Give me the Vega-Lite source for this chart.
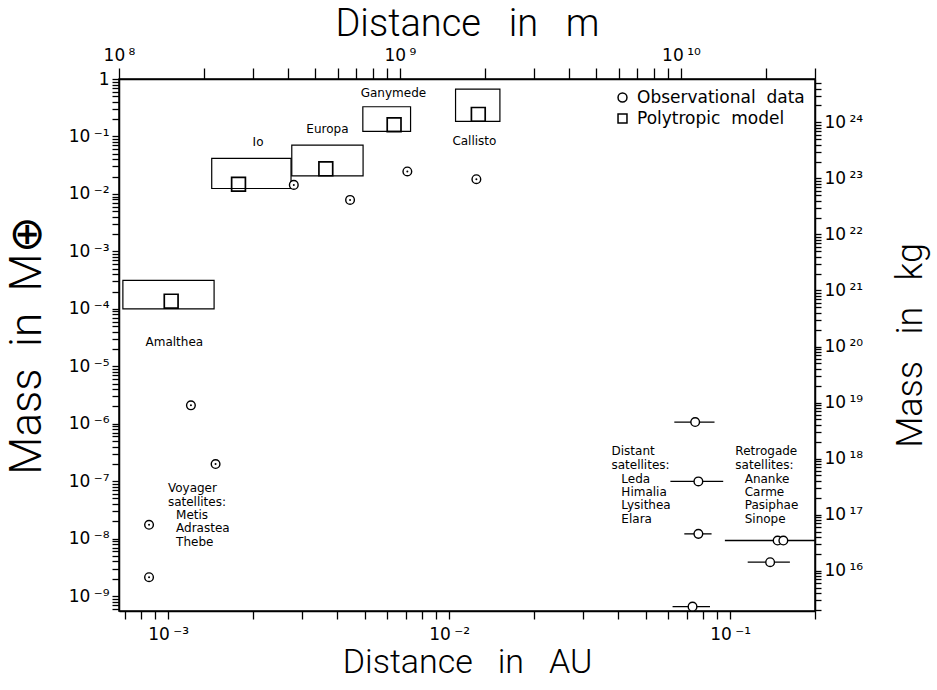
{
  "$schema": "https://vega.github.io/schema/vega-lite/v6.json",
  "width": 696,
  "height": 532,
  "padding": {"left": 5, "right": 5, "top": 5, "bottom": 0},
  "background": "white",
  "config": {
    "view": {"stroke": "black", "strokeWidth": 1.5},
    "font": "DejaVu Sans",
    "axis": {
      "ticks": true, "tickOpacity": 1,
      "domainColor": "black", "domainWidth": 1.5,
      "tickColor": "black", "tickWidth": 1.3,
      "labelColor": "black", "titleColor": "black",
      "labelFont": "DejaVu Sans", "labelFontSize": 17,
      "titleFont": "Roboto", "titleFontWeight": 300,
      "grid": false, "labelOverlap": false, "labelFlush": false, "labelBound": false
    },
    "legend": {
      "title": null, "orient": "top-right", "offset": 10, "padding": 0,
      "labelFont": "DejaVu Sans", "labelFontSize": 17, "labelColor": "black", "labelLimit": 400,
      "symbolSize": 80, "symbolStrokeColor": "black", "symbolStrokeWidth": 1.5,
      "symbolFillColor": "white", "rowPadding": 3, "labelOffset": 6
    }
  },
  "datasets": {
    "obs": [
      {"name": "Io", "a": 0.00280, "mass": 0.01435, "kind": "Observational\u00a0 data", "dot": true},
      {"name": "Europa", "a": 0.00444, "mass": 0.00786, "kind": "Observational\u00a0 data", "dot": true},
      {"name": "Ganymede", "a": 0.00710, "mass": 0.0246, "kind": "Observational\u00a0 data", "dot": true},
      {"name": "Callisto", "a": 0.0125, "mass": 0.0180, "kind": "Observational\u00a0 data", "dot": true},
      {"name": "Amalthea", "a": 0.001205, "mass": 2.09e-6, "kind": "Observational\u00a0 data", "dot": true},
      {"name": "Thebe", "a": 0.001475, "mass": 1.99e-7, "kind": "Observational\u00a0 data", "dot": true},
      {"name": "Adrastea", "a": 0.000855, "mass": 1.74e-8, "kind": "Observational\u00a0 data", "dot": true},
      {"name": "Metis", "a": 0.000855, "mass": 2.13e-9, "kind": "Observational\u00a0 data", "dot": true},
      {"name": "Himalia", "a": 0.0751, "mass": 1.07e-6, "kind": "Observational\u00a0 data", "dot": false},
      {"name": "Elara", "a": 0.0771, "mass": 9.9e-8, "kind": "Observational\u00a0 data", "dot": false},
      {"name": "Lysithea", "a": 0.0771, "mass": 1.21e-8, "kind": "Observational\u00a0 data", "dot": false},
      {"name": "Leda", "a": 0.0735, "mass": 6.55e-10, "kind": "Observational\u00a0 data", "dot": false},
      {"name": "Pasiphae", "a": 0.1476, "mass": 9.27e-9, "kind": "Observational\u00a0 data", "dot": false},
      {"name": "Sinope", "a": 0.1547, "mass": 9.27e-9, "kind": "Observational\u00a0 data", "dot": false},
      {"name": "Carme", "a": 0.1388, "mass": 3.89e-9, "kind": "Observational\u00a0 data", "dot": false}
    ],
    "bars": [
      {"name": "Himalia", "lo": 0.0633, "hi": 0.0880, "mass": 1.07e-6},
      {"name": "Elara", "lo": 0.0613, "hi": 0.0945, "mass": 9.9e-8},
      {"name": "Lysithea", "lo": 0.0687, "hi": 0.0859, "mass": 1.21e-8},
      {"name": "Leda", "lo": 0.0624, "hi": 0.0848, "mass": 6.55e-10},
      {"name": "Pasiphae", "lo": 0.0958, "hi": 0.2005, "mass": 9.27e-9},
      {"name": "Carme", "lo": 0.1155, "hi": 0.1632, "mass": 3.89e-9}
    ],
    "model": [
      {"name": "Amalthea", "a": 0.001025, "mass": 1.36e-4, "kind": "Polytropic\u00a0 model"},
      {"name": "Io", "a": 0.00178, "mass": 0.01476, "kind": "Polytropic\u00a0 model"},
      {"name": "Europa", "a": 0.00364, "mass": 0.0273, "kind": "Polytropic\u00a0 model"},
      {"name": "Ganymede", "a": 0.00637, "mass": 0.1596, "kind": "Polytropic\u00a0 model"},
      {"name": "Callisto", "a": 0.0127, "mass": 0.2423, "kind": "Polytropic\u00a0 model"}
    ],
    "boxes": [
      {"name": "Amalthea", "a": 0.000690, "a2": 0.001457, "mass": 1.0e-4, "mass2": 3.13e-4},
      {"name": "Io", "a": 0.001429, "a2": 0.002737, "mass": 0.01242, "mass2": 0.0414},
      {"name": "Europa", "a": 0.002754, "a2": 0.00494, "mass": 0.0206, "mass2": 0.0707},
      {"name": "Ganymede", "a": 0.00493, "a2": 0.00729, "mass": 0.1225, "mass2": 0.329},
      {"name": "Callisto", "a": 0.01054, "a2": 0.01516, "mass": 0.183, "mass2": 0.669}
    ],
    "labels": [
      {"text": "Io", "a": 0.002089, "mass": 0.0787},
      {"text": "Europa", "a": 0.003688, "mass": 0.134},
      {"text": "Ganymede", "a": 0.006335, "mass": 0.563},
      {"text": "Callisto", "a": 0.0123, "mass": 0.082},
      {"text": "Amalthea", "a": 0.001052, "mass": 2.63e-5}
    ],
    "blocks": [
      {"text": "Voyager\nsatellites:", "a": 0.000998, "mass": 9.2e-8},
      {"text": "Metis\nAdrastea\nThebe", "a": 0.001067, "mass": 3.18e-8},
      {"text": "Distant\nsatellites:", "a": 0.03783, "mass": 4.04e-7},
      {"text": "Leda\nHimalia\nLysithea\nElara", "a": 0.04102, "mass": 1.35e-7},
      {"text": "Retrogade\nsatellites:", "a": 0.1044, "mass": 4.04e-7},
      {"text": "Ananke\nCarme\nPasiphae\nSinope", "a": 0.1127, "mass": 1.35e-7}
    ],
    "aux": [
      {"dist_m": 1e8, "mass_kg": 1.91e15},
      {"dist_m": 3e10, "mass_kg": 5.93e24}
    ]
  },
  "layer": [
    {
      "layer": [
        {
          "data": {"name": "boxes"},
          "mark": {"type": "rect", "fill": null, "fillOpacity": 0, "stroke": "black", "strokeWidth": 1.2},
          "encoding": {
            "x": {
              "field": "a", "type": "quantitative",
              "scale": {"type": "log", "domain": [0.0006684, 0.2005], "nice": false, "zero": false},
              "axis": {
                "orient": "bottom",
                "title": "Distance\u00a0\u00a0 in\u00a0\u00a0 AU", "titleFontSize": 34, "titlePadding": 3,
                "values": [0.0007, 0.0008, 0.0009, 0.001, 0.002, 0.003, 0.004, 0.005, 0.006, 0.007, 0.008, 0.009, 0.01, 0.02, 0.03, 0.04, 0.05, 0.06, 0.07, 0.08, 0.09, 0.1, 0.2],
                "labelExpr": "abs(log(datum.value)/LN10 - round(log(datum.value)/LN10)) > 0.01 ? '' : round(log(datum.value)/LN10) == 0 ? '1' : '10\u2009' + (datum.value < 1 ? '⁻' : '') + (abs(round(log(datum.value)/LN10)) >= 10 ? substring('⁰¹²³⁴⁵⁶⁷⁸⁹', floor(abs(round(log(datum.value)/LN10))/10), floor(abs(round(log(datum.value)/LN10))/10) + 1) : '') + substring('⁰¹²³⁴⁵⁶⁷⁸⁹', abs(round(log(datum.value)/LN10)) % 10, abs(round(log(datum.value)/LN10)) % 10 + 1)",
                "tickSize": 8,
                "labelPadding": 7
              }
            },
            "x2": {"field": "a2"},
            "y": {
              "field": "mass", "type": "quantitative",
              "scale": {"type": "log", "domain": [5.5e-10, 1], "nice": false, "zero": false},
              "axis": {
                "orient": "left",
                "title": "Mass\u00a0 in\u00a0 M⊕", "titleFontSize": 44, "titlePadding": 19,
                "values": [6e-10, 7e-10, 8e-10, 9e-10,
                  1e-9, 2e-9, 3e-9, 4e-9, 5e-9, 6e-9, 7e-9, 8e-9, 9e-9,
                  1e-8, 2e-8, 3e-8, 4e-8, 5e-8, 6e-8, 7e-8, 8e-8, 9e-8,
                  1e-7, 2e-7, 3e-7, 4e-7, 5e-7, 6e-7, 7e-7, 8e-7, 9e-7,
                  1e-6, 2e-6, 3e-6, 4e-6, 5e-6, 6e-6, 7e-6, 8e-6, 9e-6,
                  1e-5, 2e-5, 3e-5, 4e-5, 5e-5, 6e-5, 7e-5, 8e-5, 9e-5,
                  1e-4, 2e-4, 3e-4, 4e-4, 5e-4, 6e-4, 7e-4, 8e-4, 9e-4,
                  1e-3, 2e-3, 3e-3, 4e-3, 5e-3, 6e-3, 7e-3, 8e-3, 9e-3,
                  1e-2, 2e-2, 3e-2, 4e-2, 5e-2, 6e-2, 7e-2, 8e-2, 9e-2,
                  1e-1, 2e-1, 3e-1, 4e-1, 5e-1, 6e-1, 7e-1, 8e-1, 9e-1, 1],
                "labelExpr": "abs(log(datum.value)/LN10 - round(log(datum.value)/LN10)) > 0.01 ? '' : round(log(datum.value)/LN10) == 0 ? '1' : '10\u2009' + (datum.value < 1 ? '⁻' : '') + (abs(round(log(datum.value)/LN10)) >= 10 ? substring('⁰¹²³⁴⁵⁶⁷⁸⁹', floor(abs(round(log(datum.value)/LN10))/10), floor(abs(round(log(datum.value)/LN10))/10) + 1) : '') + substring('⁰¹²³⁴⁵⁶⁷⁸⁹', abs(round(log(datum.value)/LN10)) % 10, abs(round(log(datum.value)/LN10)) % 10 + 1)",
                "tickSize": 7,
                "labelPadding": 3
              }
            },
            "y2": {"field": "mass2"}
          }
        },
        {
          "data": {"name": "bars"},
          "mark": {"type": "rule", "color": "black", "strokeWidth": 1.3, "clip": true},
          "encoding": {
            "x": {"field": "lo", "type": "quantitative"},
            "x2": {"field": "hi"},
            "y": {"field": "mass", "type": "quantitative"}
          }
        },
        {
          "data": {"name": "model"},
          "mark": {"type": "point", "filled": false, "color": "black", "strokeWidth": 1.7, "size": 190, "opacity": 1},
          "encoding": {
            "x": {"field": "a", "type": "quantitative"},
            "y": {"field": "mass", "type": "quantitative"},
            "shape": {
              "field": "kind", "type": "nominal",
              "scale": {"domain": ["Observational\u00a0 data", "Polytropic\u00a0 model"], "range": ["circle", "square"]}
            }
          }
        },
        {
          "data": {"name": "obs"},
          "mark": {"type": "point", "filled": true, "fill": "white", "stroke": "black", "strokeWidth": 1.4, "size": 75, "opacity": 1},
          "encoding": {
            "x": {"field": "a", "type": "quantitative"},
            "y": {"field": "mass", "type": "quantitative"},
            "shape": {"field": "kind", "type": "nominal"}
          }
        },
        {
          "data": {"name": "obs"},
          "transform": [{"filter": "datum.dot"}],
          "mark": {"type": "point", "shape": "circle", "filled": true, "color": "black", "size": 4, "opacity": 1},
          "encoding": {
            "x": {"field": "a", "type": "quantitative"},
            "y": {"field": "mass", "type": "quantitative"}
          }
        },
        {
          "data": {"name": "labels"},
          "mark": {"type": "text", "font": "DejaVu Sans", "fontSize": 12, "align": "center", "baseline": "middle", "color": "black"},
          "encoding": {
            "x": {"field": "a", "type": "quantitative"},
            "y": {"field": "mass", "type": "quantitative"},
            "text": {"field": "text"}
          }
        },
        {
          "data": {"name": "blocks"},
          "mark": {"type": "text", "font": "DejaVu Sans", "fontSize": 12, "align": "left", "baseline": "top", "lineBreak": "\n", "lineHeight": 13.4, "color": "black"},
          "encoding": {
            "x": {"field": "a", "type": "quantitative"},
            "y": {"field": "mass", "type": "quantitative"},
            "text": {"field": "text"}
          }
        }
      ]
    },
    {
      "data": {"name": "aux"},
      "mark": {"type": "point", "opacity": 0},
      "encoding": {
        "x": {
          "field": "dist_m", "type": "quantitative",
          "scale": {"type": "log", "domain": [1e8, 3e10], "nice": false, "zero": false},
          "axis": {
            "orient": "top",
            "title": "Distance\u00a0\u00a0 in\u00a0\u00a0 m", "titleFontSize": 38, "titlePadding": 3,
            "values": [1e8, 2e8, 3e8, 4e8, 5e8, 6e8, 7e8, 8e8, 9e8, 1e9, 2e9, 3e9, 4e9, 5e9, 6e9, 7e9, 8e9, 9e9, 1e10, 2e10, 3e10],
            "labelExpr": "abs(log(datum.value)/LN10 - round(log(datum.value)/LN10)) > 0.01 ? '' : round(log(datum.value)/LN10) == 0 ? '1' : '10\u2009' + (datum.value < 1 ? '⁻' : '') + (abs(round(log(datum.value)/LN10)) >= 10 ? substring('⁰¹²³⁴⁵⁶⁷⁸⁹', floor(abs(round(log(datum.value)/LN10))/10), floor(abs(round(log(datum.value)/LN10))/10) + 1) : '') + substring('⁰¹²³⁴⁵⁶⁷⁸⁹', abs(round(log(datum.value)/LN10)) % 10, abs(round(log(datum.value)/LN10)) % 10 + 1)",
            "tickSize": 11,
            "labelPadding": 4
          }
        },
        "y": {
          "field": "mass_kg", "type": "quantitative",
          "scale": {"type": "log", "domain": [1.91e15, 5.93e24], "nice": false, "zero": false},
          "axis": {
            "orient": "right",
            "title": "Mass\u00a0\u00a0 in\u00a0\u00a0 kg", "titleFontSize": 36, "titlePadding": 31, "titleAngle": 270, "titleBaseline": "top",
            "values": [2e15, 3e15, 4e15, 5e15, 6e15, 7e15, 8e15, 9e15,
              1e16, 2e16, 3e16, 4e16, 5e16, 6e16, 7e16, 8e16, 9e16,
              1e17, 2e17, 3e17, 4e17, 5e17, 6e17, 7e17, 8e17, 9e17,
              1e18, 2e18, 3e18, 4e18, 5e18, 6e18, 7e18, 8e18, 9e18,
              1e19, 2e19, 3e19, 4e19, 5e19, 6e19, 7e19, 8e19, 9e19,
              1e20, 2e20, 3e20, 4e20, 5e20, 6e20, 7e20, 8e20, 9e20,
              1e21, 2e21, 3e21, 4e21, 5e21, 6e21, 7e21, 8e21, 9e21,
              1e22, 2e22, 3e22, 4e22, 5e22, 6e22, 7e22, 8e22, 9e22,
              1e23, 2e23, 3e23, 4e23, 5e23, 6e23, 7e23, 8e23, 9e23,
              1e24, 2e24, 3e24, 4e24, 5e24],
            "labelExpr": "abs(log(datum.value)/LN10 - round(log(datum.value)/LN10)) > 0.01 ? '' : round(log(datum.value)/LN10) == 0 ? '1' : '10\u2009' + (datum.value < 1 ? '⁻' : '') + (abs(round(log(datum.value)/LN10)) >= 10 ? substring('⁰¹²³⁴⁵⁶⁷⁸⁹', floor(abs(round(log(datum.value)/LN10))/10), floor(abs(round(log(datum.value)/LN10))/10) + 1) : '') + substring('⁰¹²³⁴⁵⁶⁷⁸⁹', abs(round(log(datum.value)/LN10)) % 10, abs(round(log(datum.value)/LN10)) % 10 + 1)",
            "tickSize": 6,
            "labelPadding": 3
          }
        }
      }
    }
  ],
  "resolve": {"scale": {"x": "independent", "y": "independent"}}
}
